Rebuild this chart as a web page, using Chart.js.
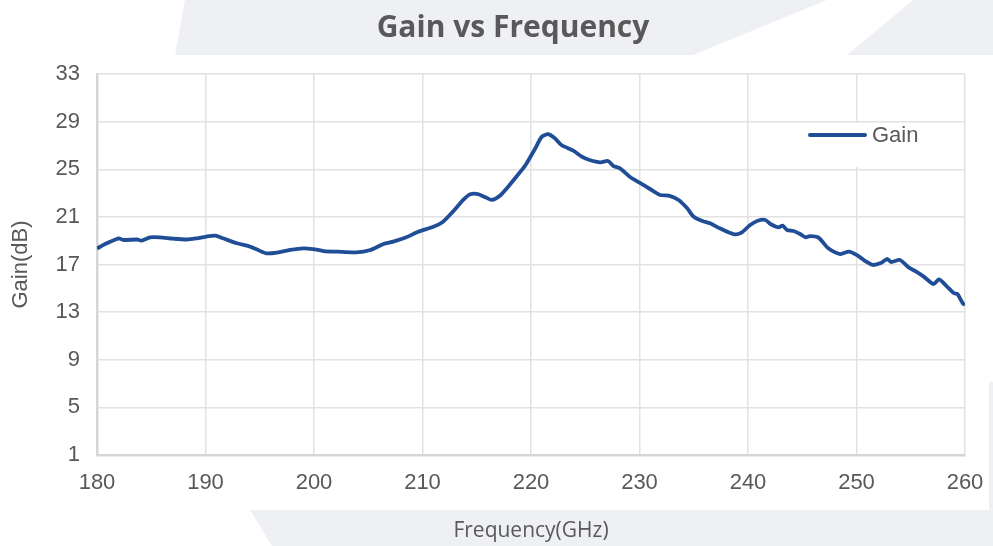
<!DOCTYPE html>
<html lang="en">
<head>
    <meta charset="UTF-8">
    <title>Gain vs Frequency</title>
    <script src="https://cdn.jsdelivr.net/npm/chart.js"></script>
    <style>
        body {
            margin: 0;
            padding: 0;
            background-color: #ffffff;
        }
        #chart-container {
            width: 993px;
            height: 546px;
        }
    </style>
</head>
<body>
    <div id="chart-container">
        <canvas id="gainChart" width="993" height="546"></canvas>
    </div>

    <script>
        const frequency = [
            180.0, 180.9, 182.0, 182.4, 183.7, 184.1, 184.9, 185.8, 187.0, 188.3,
            189.2, 190.0, 190.9, 191.6, 192.9, 193.9, 194.7, 195.6, 196.6, 197.8,
            199.0, 199.9, 200.9, 202.1, 203.9, 205.2, 206.4, 207.3, 208.5, 209.6,
            211.0, 211.9, 212.8, 213.8, 214.4, 215.1, 215.8, 216.4, 217.1, 217.9,
            218.7, 219.5, 220.4, 221.0, 221.6, 222.2, 222.8, 223.9, 224.7, 225.4,
            226.4, 227.1, 227.6, 228.2, 229.1, 230.0, 231.0, 231.9, 232.7, 233.6,
            234.4, 235.0, 235.8, 236.5, 237.4, 238.7, 239.4, 240.2, 240.9, 241.6,
            242.1, 242.8, 243.2, 243.6, 244.2, 244.8, 245.3, 245.7, 246.5, 247.4,
            248.5, 249.3, 250.0, 250.9, 251.5, 252.3, 252.8, 253.2, 254.0, 254.8,
            255.5, 256.2, 257.1, 257.6, 258.3, 259.0, 259.3, 259.8, 260.0
        ];
        const gain = [
            18.35, 18.78, 19.20, 19.06, 19.10, 19.00, 19.28, 19.28, 19.17, 19.10,
            19.20, 19.33, 19.42, 19.20, 18.78, 18.56, 18.28, 17.94, 18.00, 18.22,
            18.36, 18.30, 18.13, 18.08, 18.02, 18.22, 18.72, 18.92, 19.28, 19.75,
            20.17, 20.60, 21.44, 22.47, 22.90, 22.92, 22.64, 22.42, 22.75, 23.54,
            24.43, 25.36, 26.76, 27.74, 27.94, 27.60, 27.04, 26.56, 26.05, 25.78,
            25.58, 25.69, 25.27, 25.08, 24.37, 23.87, 23.32, 22.84, 22.78, 22.42,
            21.72, 21.01, 20.65, 20.46, 20.04, 19.54, 19.68, 20.32, 20.68, 20.74,
            20.38, 20.12, 20.26, 19.90, 19.81, 19.56, 19.28, 19.39, 19.26, 18.36,
            17.88, 18.08, 17.80, 17.24, 16.96, 17.15, 17.46, 17.21, 17.38, 16.76,
            16.40, 15.98, 15.36, 15.75, 15.19, 14.58, 14.52, 13.74, 13.60
        ];

        // Axis ranges
        const xRange = [180, 260];
        const xStep = 10;
        const yRange = [1, 33];
        const yStep = 4;

        const textColor = '#595959';
        const gridColor = '#e2e2e2';
        const axisColor = '#d6d6d6';
        const lineColor = '#1f4e96';

        // Faint grey watermark shapes behind the white chart panel
        const backdrop = {
            id: 'backdrop',
            beforeDraw(chart) {
                const c = chart.ctx;
                const shapes = [
                    [[185, 0], [827, 0], [693, 55], [175, 55]],
                    [[913, 0], [993, 0], [993, 55], [847, 55]],
                    [[250, 510], [993, 510], [993, 546], [272, 546]],
                    [[989, 382], [993, 382], [993, 546], [989, 546]]
                ];
                c.save();
                c.fillStyle = '#eef0f4';
                shapes.forEach(s => {
                    c.beginPath();
                    s.forEach((p, i) => i ? c.lineTo(p[0], p[1]) : c.moveTo(p[0], p[1]));
                    c.closePath();
                    c.fill();
                });
                c.restore();
            },
            afterLayout(chart) {
                // centre the title a little right of the canvas middle, like the original
                if (chart.titleBlock) {
                    chart.titleBlock.left = 36;
                    chart.titleBlock.right = 990;
                }
            }
        };

        // Legend drawn inside the plot, top right
        const innerLegend = {
            id: 'innerLegend',
            afterDraw(chart) {
                const c = chart.ctx;
                const area = chart.chartArea;
                const ds = chart.data.datasets[0];
                const y = area.top + 61;
                c.save();
                c.fillStyle = '#ffffff';
                c.fillRect(area.right - 165, area.top + 49, 135, 44);
                c.strokeStyle = ds.borderColor;
                c.lineWidth = 4;
                c.lineCap = 'round';
                c.beginPath();
                c.moveTo(area.right - 155, y);
                c.lineTo(area.right - 100, y);
                c.stroke();
                c.fillStyle = textColor;
                c.font = '22px "Liberation Sans", Arial, sans-serif';
                c.textBaseline = 'middle';
                c.fillText(ds.label, area.right - 93, y + 1);
                c.restore();
            }
        };

        const ctx = document.getElementById('gainChart').getContext('2d');
        const gainChart = new Chart(ctx, {
            type: 'line',
            data: {
                datasets: [{
                    label: 'Gain',
                    data: frequency.map((f, i) => ({ x: f, y: gain[i] })),
                    borderColor: lineColor,
                    borderWidth: 3.8,
                    pointRadius: 0,
                    tension: 0.25,
                    fill: false
                }]
            },
            options: {
                responsive: false,
                animation: false,
                devicePixelRatio: 1,
                layout: {
                    padding: { left: 0, right: 28, top: 0, bottom: 0 }
                },
                plugins: {
                    legend: { display: false },
                    tooltip: { enabled: false },
                    title: {
                        display: true,
                        text: 'Gain vs Frequency',
                        color: textColor,
                        font: { family: '"Open Sans", sans-serif', size: 30, weight: 'bold' },
                        padding: { top: 10, bottom: 28 }
                    }
                },
                scales: {
                    x: {
                        type: 'linear',
                        min: xRange[0],
                        max: xRange[1],
                        ticks: {
                            stepSize: xStep,
                            padding: 3,
                            maxRotation: 0,
                            color: textColor,
                            font: { family: '"Liberation Sans", Arial, sans-serif', size: 22 }
                        },
                        // invisible tick marks push the labels down without widening the side padding
                        grid: { color: gridColor, lineWidth: 1.5, drawTicks: true, tickLength: 12, tickColor: 'rgba(0,0,0,0)' },
                        border: { color: axisColor, width: 2.5 },
                        title: {
                            display: true,
                            text: 'Frequency(GHz)',
                            color: textColor,
                            font: { family: '"Open Sans", sans-serif', size: 21 },
                            padding: { top: 0, bottom: 2 }
                        },
                        afterFit(scale) { scale.height = 91; }
                    },
                    y: {
                        min: yRange[0],
                        max: yRange[1],
                        ticks: {
                            stepSize: yStep,
                            padding: 17,
                            color: textColor,
                            font: { family: '"Liberation Sans", Arial, sans-serif', size: 22 }
                        },
                        grid: { color: gridColor, lineWidth: 1.5, drawTicks: false },
                        border: { color: axisColor, width: 2.5 },
                        title: {
                            display: true,
                            text: 'Gain(dB)',
                            color: textColor,
                            font: { family: '"Liberation Sans", Arial, sans-serif', size: 22 },
                            padding: { top: 8, bottom: 0 }
                        },
                        afterFit(scale) { scale.width = 97; }
                    }
                }
            },
            plugins: [backdrop, innerLegend]
        });
    </script>
</body>
</html>
